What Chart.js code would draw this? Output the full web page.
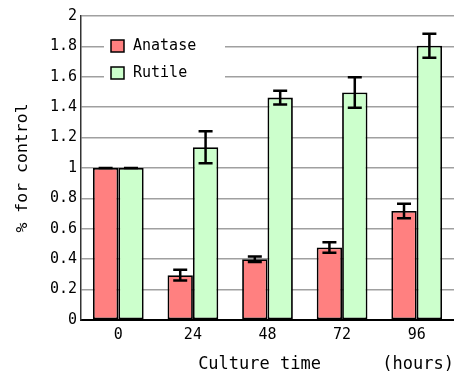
<!DOCTYPE html>
<html>
<head>
<meta charset="utf-8">
<script src="https://cdn.jsdelivr.net/npm/chart.js@4"></script>
<style>
  html, body { margin: 0; padding: 0; background: #fff; }
  #wrap { width: 454px; height: 374px; }
</style>
</head>
<body>
<div id="wrap"><canvas id="cultureChart" width="454" height="374"></canvas></div>
<script>
document.addEventListener("DOMContentLoaded", function () {

    // data
    const hours = ['0', '24', '48', '72', '96']
    const anatase = [1.0, 0.295, 0.40, 0.477, 0.717]
    const anataseErr = [0, 0.035, 0.018, 0.034, 0.047]
    const rutile = [1.0, 1.137, 1.463, 1.497, 1.805]
    const rutileErr = [0, 0.105, 0.045, 0.10, 0.079]
    const errors = [anataseErr, rutileErr]

    const monoFont = "'DejaVu Sans Mono', monospace"

    // error bars with caps
    const errorBars = {
        id: 'errorBars',
        afterDatasetsDraw(chart) {
            const ctx = chart.ctx
            const yScale = chart.scales.y
            ctx.save()
            ctx.strokeStyle = '#000'
            ctx.lineWidth = 2.5
            chart.data.datasets.forEach((ds, i) => {
                const meta = chart.getDatasetMeta(i)
                meta.data.forEach((bar, j) => {
                    const v = ds.data[j]
                    const e = errors[i][j]
                    const yTop = yScale.getPixelForValue(v + e)
                    const yBot = yScale.getPixelForValue(v - e)
                    const x = bar.x
                    ctx.beginPath()
                    ctx.moveTo(x, yTop)
                    ctx.lineTo(x, yBot)
                    ctx.moveTo(x - 7, yTop)
                    ctx.lineTo(x + 7, yTop)
                    ctx.moveTo(x - 7, yBot)
                    ctx.lineTo(x + 7, yBot)
                    ctx.stroke()
                })
            })
            ctx.restore()
        }
    }

    // legend sitting inside the plot, over the grid lines
    const innerLegend = {
        id: 'innerLegend',
        beforeDatasetsDraw(chart) {
            const ctx = chart.ctx
            ctx.save()
            ctx.fillStyle = '#fff'
            ctx.fillRect(104, 31, 121, 57)
            ctx.font = '15px ' + monoFont
            ctx.textBaseline = 'middle'
            chart.data.datasets.forEach((ds, i) => {
                const y = 46 + i * 27
                ctx.fillStyle = ds.backgroundColor
                ctx.fillRect(111, y - 6, 13, 12)
                ctx.strokeStyle = '#000'
                ctx.lineWidth = 1.5
                ctx.strokeRect(111, y - 6, 13, 12)
                ctx.fillStyle = '#000'
                ctx.fillText(ds.label, 133, y)
            })
            ctx.restore()
        }
    }

    const dataBar = {
        labels: hours,
        datasets: [{
            label: 'Anatase',
            data: anatase,
            backgroundColor: '#FF8080',
            borderColor: '#000',
            borderWidth: 1.8,
            borderSkipped: false
        }, {
            label: 'Rutile',
            data: rutile,
            backgroundColor: '#CCFFCC',
            borderColor: '#000',
            borderWidth: 1.8,
            borderSkipped: false
        }]
    }

    const configBar = {
        type: 'bar',
        data: dataBar,
        plugins: [innerLegend, errorBars],
        options: {
            responsive: false,
            animation: false,
            layout: { padding: { top: 16, right: 0, bottom: 0, left: 0 } },
            categoryPercentage: 0.68,
            barPercentage: 1.0,
            plugins: {
                legend: { display: false },
                tooltip: { enabled: false }
            },
            scales: {
                x: {
                    grid: { display: false, drawTicks: false },
                    border: { color: '#000', width: 2 },
                    ticks: {
                        color: '#000',
                        font: { family: monoFont, size: 15 },
                        padding: 6
                    },
                    title: {
                        display: true,
                        text: 'Culture time      (hours)',
                        align: 'end',
                        color: '#000',
                        font: { family: monoFont, size: 17, lineHeight: 1 },
                        padding: { top: 0, bottom: 1 }
                    },
                    afterFit(scale) { scale.height = 54 }
                },
                y: {
                    min: 0,
                    max: 2,
                    ticks: {
                        stepSize: 0.2,
                        color: '#000',
                        padding: 4,
                        font: { family: monoFont, size: 15 },
                        callback: (v) => String(Number(v.toFixed(1)))
                    },
                    grid: { color: '#a0a0a0', lineWidth: 1.5, drawTicks: false },
                    border: { color: '#333', width: 1.5 },
                    title: {
                        display: true,
                        text: '% for control',
                        color: '#000',
                        font: { family: monoFont, size: 16.5, lineHeight: 1 },
                        padding: { top: 14, bottom: 0 }
                    },
                    afterFit(scale) { scale.width = 81 }
                }
            }
        }
    }

    const cultureChart = new Chart(
        document.getElementById('cultureChart'),
        configBar
    )
});
</script>
</body>
</html>
